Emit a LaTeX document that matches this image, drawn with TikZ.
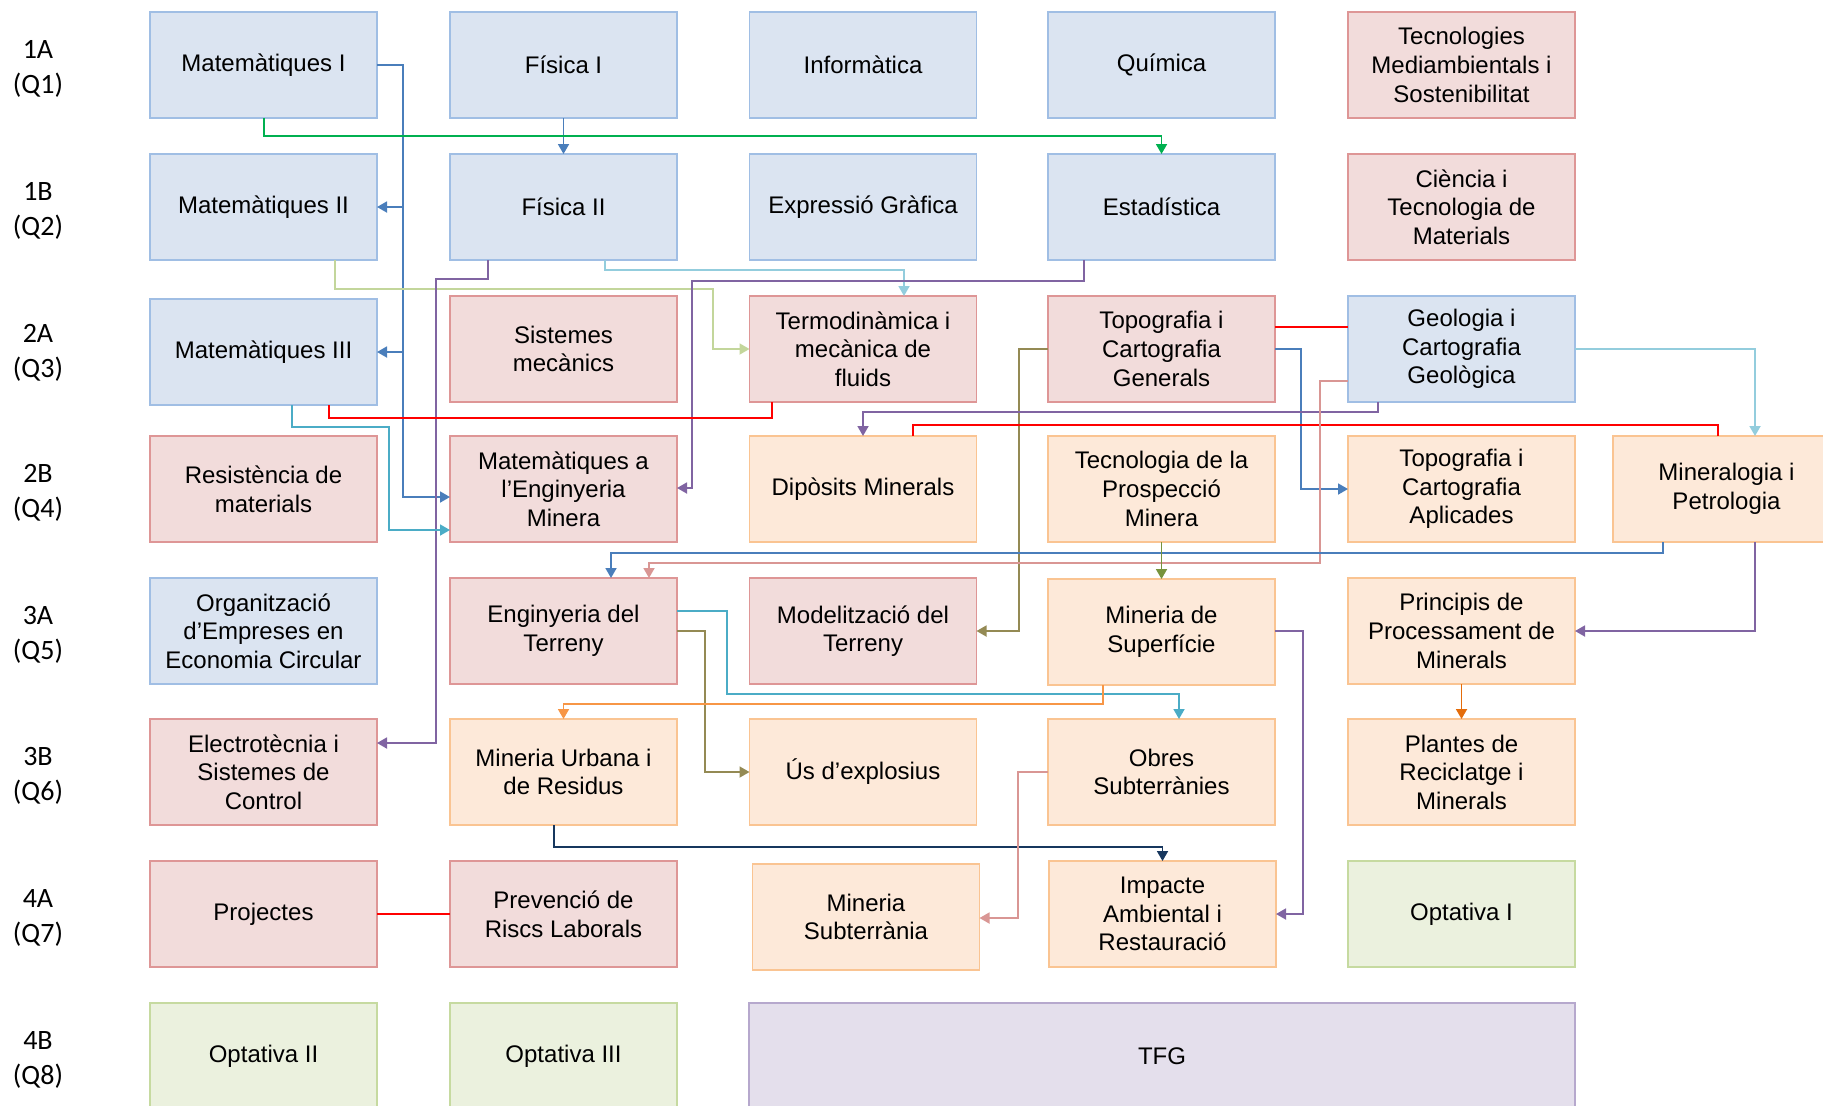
\documentclass[tikz,border=0pt]{standalone}
\usepackage{fontspec}
\setmainfont{Liberation Sans}
\newfontfamily\lblfont{Carlito}
\usetikzlibrary{arrows.meta}
\definecolor{fBlue}{RGB}{219,228,241}
\definecolor{dBlue}{RGB}{160,190,228}
\definecolor{fPink}{RGB}{242,220,219}
\definecolor{dPink}{RGB}{222,150,150}
\definecolor{fOrange}{RGB}{253,233,217}
\definecolor{dOrange}{RGB}{250,196,146}
\definecolor{fGreen}{RGB}{235,241,222}
\definecolor{dGreen}{RGB}{198,218,160}
\definecolor{fPurple}{RGB}{228,223,236}
\definecolor{dPurple}{RGB}{182,168,205}
\definecolor{cBlue}{RGB}{74,126,187}
\definecolor{cGreen}{RGB}{0,176,80}
\definecolor{cLGreen}{RGB}{195,214,155}
\definecolor{cPurple}{RGB}{128,100,162}
\definecolor{cLBlue}{RGB}{147,205,221}
\definecolor{cRed}{RGB}{255,0,0}
\definecolor{cTeal}{RGB}{75,172,198}
\definecolor{cOlive}{RGB}{148,138,84}
\definecolor{cPink}{RGB}{217,150,148}
\definecolor{cOGreen}{RGB}{119,147,60}
\definecolor{cOrange}{RGB}{228,108,10}
\definecolor{cOrange2}{RGB}{247,150,70}
\definecolor{cNavy}{RGB}{23,55,94}
\begin{document}
\begin{tikzpicture}[x=0.5pt,y=-0.5pt,
  box/.style={draw, line width=0.8pt, minimum width=113.5pt, minimum height=53pt,
    inner sep=0pt, outer sep=0pt, align=center, font=\fontsize{12}{14.3}\selectfont},
  bluebox/.style={box, fill=fBlue, draw=dBlue},
  pinkbox/.style={box, fill=fPink, draw=dPink},
  orangebox/.style={box, fill=fOrange, draw=dOrange},
  greenbox/.style={box, fill=fGreen, draw=dGreen},
  purplebox/.style={box, fill=fPurple, draw=dPurple},
  rowlbl/.style={align=center, inner sep=0pt, font=\lblfont\fontsize{14}{17.5}\selectfont},
  conn/.style={line width=0.9pt},
  arr/.style={conn, -{Triangle[length=5pt,width=5.5pt]}}]
\useasboundingbox (0,0) rectangle (1823,1105);

% row labels
\node[rowlbl] (l1) at (38,68.5) {1A\\(Q1)};
\node[rowlbl] (l2) at (38,210.5) {1B\\(Q2)};
\node[rowlbl] (l3) at (38,352.5) {2A\\(Q3)};
\node[rowlbl] (l4) at (38,492.5) {2B\\(Q4)};
\node[rowlbl] (l5) at (38,634.5) {3A\\(Q5)};
\node[rowlbl] (l6) at (38,775.5) {3B\\(Q6)};
\node[rowlbl] (l7) at (38,917.5) {4A\\(Q7)};
\node[rowlbl] (l8) at (38,1059.5) {4B\\(Q8)};

% row 1
\node[bluebox] (m1) at (263.5,65) {Matemàtiques I};
\node[bluebox] (f1) at (563.5,65) {Física I};
\node[bluebox] (inf) at (863,65) {Informàtica};
\node[bluebox] (qui) at (1161.5,65) {Química};
\node[pinkbox] (tms) at (1461.5,65) {Tecnologies\\Mediambientals i\\Sostenibilitat};
% row 2
\node[bluebox] (m2) at (263.5,207) {Matemàtiques II};
\node[bluebox] (f2) at (563.5,207) {Física II};
\node[bluebox] (eg) at (863,207) {Expressió Gràfica};
\node[bluebox] (est) at (1161.5,207) {Estadística};
\node[pinkbox] (ctm) at (1461.5,207) {Ciència i\\Tecnologia de\\Materials};
% row 3
\node[bluebox] (m3) at (263.5,352) {Matemàtiques III};
\node[pinkbox] (sm) at (563.5,349) {Sistemes\\mecànics};
\node[pinkbox] (termo) at (863,349) {Termodinàmica i\\mecànica de\\fluids};
\node[pinkbox] (topo) at (1161.5,349) {Topografia i\\Cartografia\\Generals};
\node[bluebox] (geo) at (1461.5,349) {Geologia i\\Cartografia\\Geològica};
% row 4
\node[pinkbox] (res) at (263.5,489) {Resistència de\\materials};
\node[pinkbox] (meng) at (563.5,489) {Matemàtiques a\\l’Enginyeria\\Minera};
\node[orangebox] (dip) at (863,489) {Dipòsits Minerals};
\node[orangebox] (tec) at (1161.5,489) {Tecnologia de la\\Prospecció\\Minera};
\node[orangebox] (topoA) at (1461.5,489) {Topografia i\\Cartografia\\Aplicades};
\node[orangebox] (miner) at (1726.5,489) {Mineralogia i\\Petrologia};
% row 5
\node[bluebox] (org) at (263.5,631) {Organització\\d’Empreses en\\Economia Circular};
\node[pinkbox] (engT) at (563.5,631) {Enginyeria del\\Terreny};
\node[pinkbox] (model) at (863,631) {Modelització del\\Terreny};
\node[orangebox] (minS) at (1161.5,632) {Mineria de\\Superfície};
\node[orangebox] (princ) at (1461.5,631) {Principis de\\Processament de\\Minerals};
% row 6
\node[pinkbox] (elec) at (263.5,772) {Electrotècnia i\\Sistemes de\\Control};
\node[orangebox] (urb) at (563.5,772) {Mineria Urbana i\\de Residus};
\node[orangebox] (us) at (863,772) {Ús d’explosius};
\node[orangebox] (obres) at (1161.5,772) {Obres\\Subterrànies};
\node[orangebox] (plantes) at (1461.5,772) {Plantes de\\Reciclatge i\\Minerals};
% row 7
\node[pinkbox] (proj) at (263.5,914) {Projectes};
\node[pinkbox] (prev) at (563.5,914) {Prevenció de\\Riscs Laborals};
\node[orangebox] (subt) at (866,917) {Mineria\\Subterrània};
\node[orangebox] (imp) at (1162.5,914) {Impacte\\Ambiental i\\Restauració};
\node[greenbox] (opt1) at (1461.5,914) {Optativa I};
% row 8
\node[greenbox] (opt2) at (263.5,1056) {Optativa II};
\node[greenbox] (opt3) at (563.5,1056) {Optativa III};
\node[purplebox, minimum width=413pt] (tfg) at (1162,1056) {TFG};

% ---- connectors ----
% 1 Mat I -> Mat II, Mat III, Mat Eng
\coordinate (b1) at (403,497);
\draw[arr, cBlue] (m1.east) -| (b1) -- (meng.west |- b1);
\draw[arr, cBlue] (b1 |- m2.east) -- (m2.east);
\draw[arr, cBlue] (b1 |- m3.east) -- (m3.east);
% 2 Fisica I -> Fisica II
\draw[arr, cBlue] (f1.south) -- (f2.north);
% 3 Mat I -> Estadistica
\coordinate (g3) at (264,136);
\draw[arr, cGreen] (m1.south -| g3) -- (g3) -| (est.north);
% 4 Mat II -> Termo
\coordinate (lg1) at (335,289);
\coordinate (lg2) at (713,289);
\draw[arr, cLGreen] (m2.south -| lg1) -- (lg1) -- (lg2) |- (termo.west);
% 5 Fisica II -> Electrotecnia
\coordinate (p5a) at (488,279);
\coordinate (p5b) at (436,279);
\coordinate (p5c) at (436,743);
\draw[arr, cPurple] (f2.south -| p5a) -- (p5a) -- (p5b) -- (p5c) -- (elec.east |- p5c);
% 6 Fisica II -> Termo
\coordinate (lb6a) at (605,270);
\coordinate (lb6b) at (904,270);
\draw[arr, cLBlue] (f2.south -| lb6a) -- (lb6a) -- (lb6b) -- (termo.north -| lb6b);
% 7 Estadistica -> Mat Eng
\coordinate (p7a) at (1084,281);
\coordinate (p7b) at (692,281);
\coordinate (p7c) at (692,488);
\draw[arr, cPurple] (est.south -| p7a) -- (p7a) -- (p7b) -- (p7c) -- (meng.east |- p7c);
% 8 Mat III -- Termo (red)
\coordinate (r8a) at (329,418);
\coordinate (r8b) at (772,418);
\draw[conn, cRed] (m3.south -| r8a) -- (r8a) -- (r8b) -- (termo.south -| r8b);
% 9 Mat III -> Mat Eng (teal)
\coordinate (t9a) at (292,427);
\coordinate (t9b) at (389,427);
\coordinate (t9c) at (389,530);
\draw[arr, cTeal] (m3.south -| t9a) -- (t9a) -- (t9b) -- (t9c) -- (meng.west |- t9c);
% 10 Topo -- Geo (red)
\coordinate (r10) at (1300,327);
\draw[conn, cRed] (topo.east |- r10) -- (geo.west |- r10);
% 11 Topo -> Topo Aplicades
\coordinate (b11) at (1301,489);
\draw[arr, cBlue] (topo.east) -| (b11) -- (topoA.west);
% 12 Topo -> Modelitzacio
\coordinate (o12) at (1019,631);
\draw[arr, cOlive] (topo.west) -| (o12) -- (model.east);
% 13 Geo -> Mineralogia
\coordinate (lb13) at (1755,349);
\draw[arr, cLBlue] (geo.east) -- (lb13) -- (miner.north -| lb13);
% 14 Geo -> Diposits
\coordinate (p14a) at (1378,412);
\draw[arr, cPurple] (geo.south -| p14a) -- (p14a) -| (dip.north);
% 15 Mineralogia -- Diposits (red)
\coordinate (r15a) at (1718,425);
\coordinate (r15b) at (913,425);
\draw[conn, cRed] (miner.north -| r15a) -- (r15a) -- (r15b) -- (dip.north -| r15b);
% 16 Geo -> Eng Terreny (pink)
\coordinate (pk16a) at (1320,381);
\coordinate (pk16b) at (1320,563);
\coordinate (pk16c) at (649,563);
\draw[arr, cPink] (geo.west |- pk16a) -- (pk16a) -- (pk16b) -- (pk16c) -- (engT.north -| pk16c);
% 17 Mineralogia -> Eng Terreny (blue)
\coordinate (b17a) at (1663,553);
\coordinate (b17b) at (611,553);
\draw[arr, cBlue] (miner.south -| b17a) -- (b17a) -- (b17b) -- (engT.north -| b17b);
% 18 Tecnologia -> Mineria Superficie
\draw[arr, cOGreen] (tec.south) -- (minS.north);
% 19 Mineralogia -> Principis
\coordinate (p19) at (1755,631);
\draw[arr, cPurple] (miner.south -| p19) -- (p19) -- (princ.east);
% 20 Principis -> Plantes
\draw[arr, cOrange] (princ.south) -- (plantes.north);
% 21 Eng Terreny -> Obres (teal)
\coordinate (t21a) at (727,611);
\coordinate (t21b) at (727,694);
\coordinate (t21c) at (1179,694);
\draw[arr, cTeal] (engT.east |- t21a) -- (t21a) -- (t21b) -- (t21c) -- (obres.north -| t21c);
% 22 Eng Terreny -> Us d'explosius (olive)
\coordinate (o22) at (705,631);
\draw[arr, cOlive] (engT.east) -- (o22) |- (us.west);
% 23 Mineria Superficie -> Mineria Urbana (orange)
\coordinate (or23) at (1103,704);
\draw[arr, cOrange2] (minS.south -| or23) -- (or23) -| (urb.north);
% 24 Mineria Superficie -> Impacte (purple)
\coordinate (p24) at (1303,914);
\draw[arr, cPurple] (minS.east |- 0,631) -| (p24) -- (imp.east);
% 25 Mineria Urbana -> Impacte (navy)
\coordinate (n25) at (554,847);
\draw[arr, cNavy] (urb.south -| n25) -- (n25) -| (imp.north);
% 26 Obres -> Mineria Subterrania (pink)
\coordinate (pk26) at (1018,918);
\draw[arr, cPink] (obres.west) -| (pk26) -- (subt.east |- pk26);
% 27 Projectes -- Prevencio (red)
\draw[conn, cRed] (proj.east) -- (prev.west);
\end{tikzpicture}
\end{document}
